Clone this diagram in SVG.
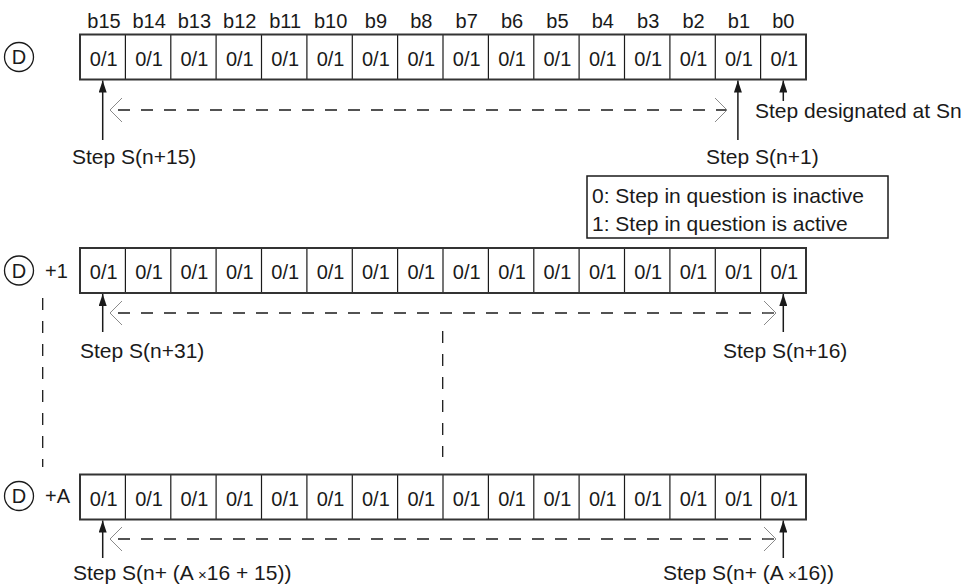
<svg xmlns="http://www.w3.org/2000/svg" width="964" height="586" viewBox="0 0 964 586">
<defs>
<style>
text{font-family:"Liberation Sans",Arial,sans-serif;fill:#1a1a1a}
.cell{font-size:20px;text-anchor:middle}
.bit{font-size:20px;text-anchor:middle}
.lbl{font-size:21px}
.outer{fill:#fff;stroke:#333;stroke-width:2}
.div{stroke:#1a1a1a;stroke-width:1.2}
.circ{fill:none;stroke:#1a1a1a;stroke-width:1.3}
.dash{stroke:#1a1a1a;stroke-width:1.3;stroke-dasharray:12 11;fill:none}
.arr{stroke:#1a1a1a;stroke-width:1.5;fill:none;marker-end:url(#ah)}
.chev{stroke:#8a8a8a;stroke-width:1;fill:none}
</style>
<marker id="ah" viewBox="0 0 12 8" markerWidth="12" markerHeight="8" refX="12" refY="4" orient="auto" markerUnits="userSpaceOnUse">
<path d="M0,0 L12,4 L0,8 z" fill="#1a1a1a"/>
</marker>
<g id="cells">
<line class="div" x1="125.4" y1="0" x2="125.4" y2="45"/>
<line class="div" x1="170.8" y1="0" x2="170.8" y2="45"/>
<line class="div" x1="216.1" y1="0" x2="216.1" y2="45"/>
<line class="div" x1="261.5" y1="0" x2="261.5" y2="45"/>
<line class="div" x1="306.9" y1="0" x2="306.9" y2="45"/>
<line class="div" x1="352.3" y1="0" x2="352.3" y2="45"/>
<line class="div" x1="397.6" y1="0" x2="397.6" y2="45"/>
<line class="div" x1="443" y1="0" x2="443" y2="45"/>
<line class="div" x1="488.4" y1="0" x2="488.4" y2="45"/>
<line class="div" x1="533.8" y1="0" x2="533.8" y2="45"/>
<line class="div" x1="579.1" y1="0" x2="579.1" y2="45"/>
<line class="div" x1="624.5" y1="0" x2="624.5" y2="45"/>
<line class="div" x1="669.9" y1="0" x2="669.9" y2="45"/>
<line class="div" x1="715.3" y1="0" x2="715.3" y2="45"/>
<line class="div" x1="760.6" y1="0" x2="760.6" y2="45"/>
<rect class="outer" x="80" y="0" width="726" height="45" style="fill:none"/>
<text class="cell" x="103.7" y="31">0/1</text>
<text class="cell" x="149.1" y="31">0/1</text>
<text class="cell" x="194.4" y="31">0/1</text>
<text class="cell" x="239.8" y="31">0/1</text>
<text class="cell" x="285.2" y="31">0/1</text>
<text class="cell" x="330.6" y="31">0/1</text>
<text class="cell" x="375.9" y="31">0/1</text>
<text class="cell" x="421.3" y="31">0/1</text>
<text class="cell" x="466.7" y="31">0/1</text>
<text class="cell" x="512.1" y="31">0/1</text>
<text class="cell" x="557.4" y="31">0/1</text>
<text class="cell" x="602.8" y="31">0/1</text>
<text class="cell" x="648.2" y="31">0/1</text>
<text class="cell" x="693.6" y="31">0/1</text>
<text class="cell" x="738.9" y="31">0/1</text>
<text class="cell" x="784.3" y="31">0/1</text>
</g>
<path id="chevL" class="chev" d="M12,-12 L0,0 L12,12"/>
<path id="chevR" class="chev" d="M-12,-12 L0,0 L-12,12"/>
</defs>

<g id="bit-labels">
<text class="bit" x="104" y="28">b15</text>
<text class="bit" x="149.1" y="28">b14</text>
<text class="bit" x="194.4" y="28">b13</text>
<text class="bit" x="239.8" y="28">b12</text>
<text class="bit" x="285.2" y="28">b11</text>
<text class="bit" x="330.6" y="28">b10</text>
<text class="bit" x="375.9" y="28">b9</text>
<text class="bit" x="421.3" y="28">b8</text>
<text class="bit" x="466.7" y="28">b7</text>
<text class="bit" x="512.1" y="28">b6</text>
<text class="bit" x="557.4" y="28">b5</text>
<text class="bit" x="602.8" y="28">b4</text>
<text class="bit" x="648.2" y="28">b3</text>
<text class="bit" x="693.6" y="28">b2</text>
<text class="bit" x="738.9" y="28">b1</text>
<text class="bit" x="783.3" y="28">b0</text>
</g>

<g id="reg-D">
<circle class="circ" cx="19" cy="57" r="14.5"/>
<text x="19" y="64" style="font-size:20px;text-anchor:middle">D</text>
<use href="#cells" x="0" y="34.5"/>
</g>

<g id="reg-D1">
<circle class="circ" cx="19" cy="270.5" r="14.5"/>
<text x="19" y="277.5" style="font-size:20px;text-anchor:middle">D</text>
<text x="45" y="277.5" style="font-size:20px">+1</text>
<use href="#cells" x="0" y="248"/>
</g>

<g id="reg-DA">
<circle class="circ" cx="19" cy="496" r="14.5"/>
<text x="19" y="503" style="font-size:20px;text-anchor:middle">D</text>
<text x="45" y="503" style="font-size:20px">+A</text>
<use href="#cells" x="0" y="474.5"/>
</g>

<g id="legend">
<rect x="587" y="176" width="301" height="62" fill="#fff" stroke="#1a1a1a" stroke-width="1.5"/>
<text class="lbl" x="592" y="203">0: Step in question is inactive</text>
<text class="lbl" x="592" y="230.5">1: Step in question is active</text>
</g>

<g id="labels">
<text class="lbl" x="72" y="164">Step S(n+15)</text>
<text class="lbl" x="706" y="164">Step S(n+1)</text>
<text class="lbl" x="755" y="118">Step designated at Sn</text>
<text class="lbl" x="80" y="358">Step S(n+31)</text>
<text class="lbl" x="723" y="358">Step S(n+16)</text>
<text class="lbl" x="73" y="580">Step S(n+ (A<tspan style="font-size:15px"> ×</tspan>16 + 15))</text>
<text class="lbl" x="663" y="580">Step S(n+ (A<tspan style="font-size:15px"> ×</tspan>16))</text>
</g>

<g id="connectors">
<line class="arr" x1="102.7" y1="140" x2="102.7" y2="80.5"/>
<line class="arr" x1="737.9" y1="140" x2="737.9" y2="80.5"/>
<line class="arr" x1="783.3" y1="101" x2="783.3" y2="80.5"/>
<line class="dash" x1="110" y1="110" x2="727" y2="110" style="stroke-dashoffset:15"/>
<use href="#chevL" x="110" y="110"/>
<use href="#chevR" x="727" y="110"/>

<line class="arr" x1="102.7" y1="332" x2="102.7" y2="294"/>
<line class="arr" x1="783.3" y1="332" x2="783.3" y2="294"/>
<line class="dash" x1="110" y1="313" x2="776" y2="313" style="stroke-dashoffset:15"/>
<use href="#chevL" x="110" y="313"/>
<use href="#chevR" x="776" y="313"/>

<line class="arr" x1="102.7" y1="558" x2="102.7" y2="520.5"/>
<line class="arr" x1="783.3" y1="558" x2="783.3" y2="520.5"/>
<line class="dash" x1="110" y1="539" x2="776" y2="539" style="stroke-dashoffset:15"/>
<use href="#chevL" x="110" y="539"/>
<use href="#chevR" x="776" y="539"/>

<line class="dash" x1="42.7" y1="298" x2="42.7" y2="467"/>
<line class="dash" x1="442.7" y1="331" x2="442.7" y2="457"/>
</g>
</svg>
